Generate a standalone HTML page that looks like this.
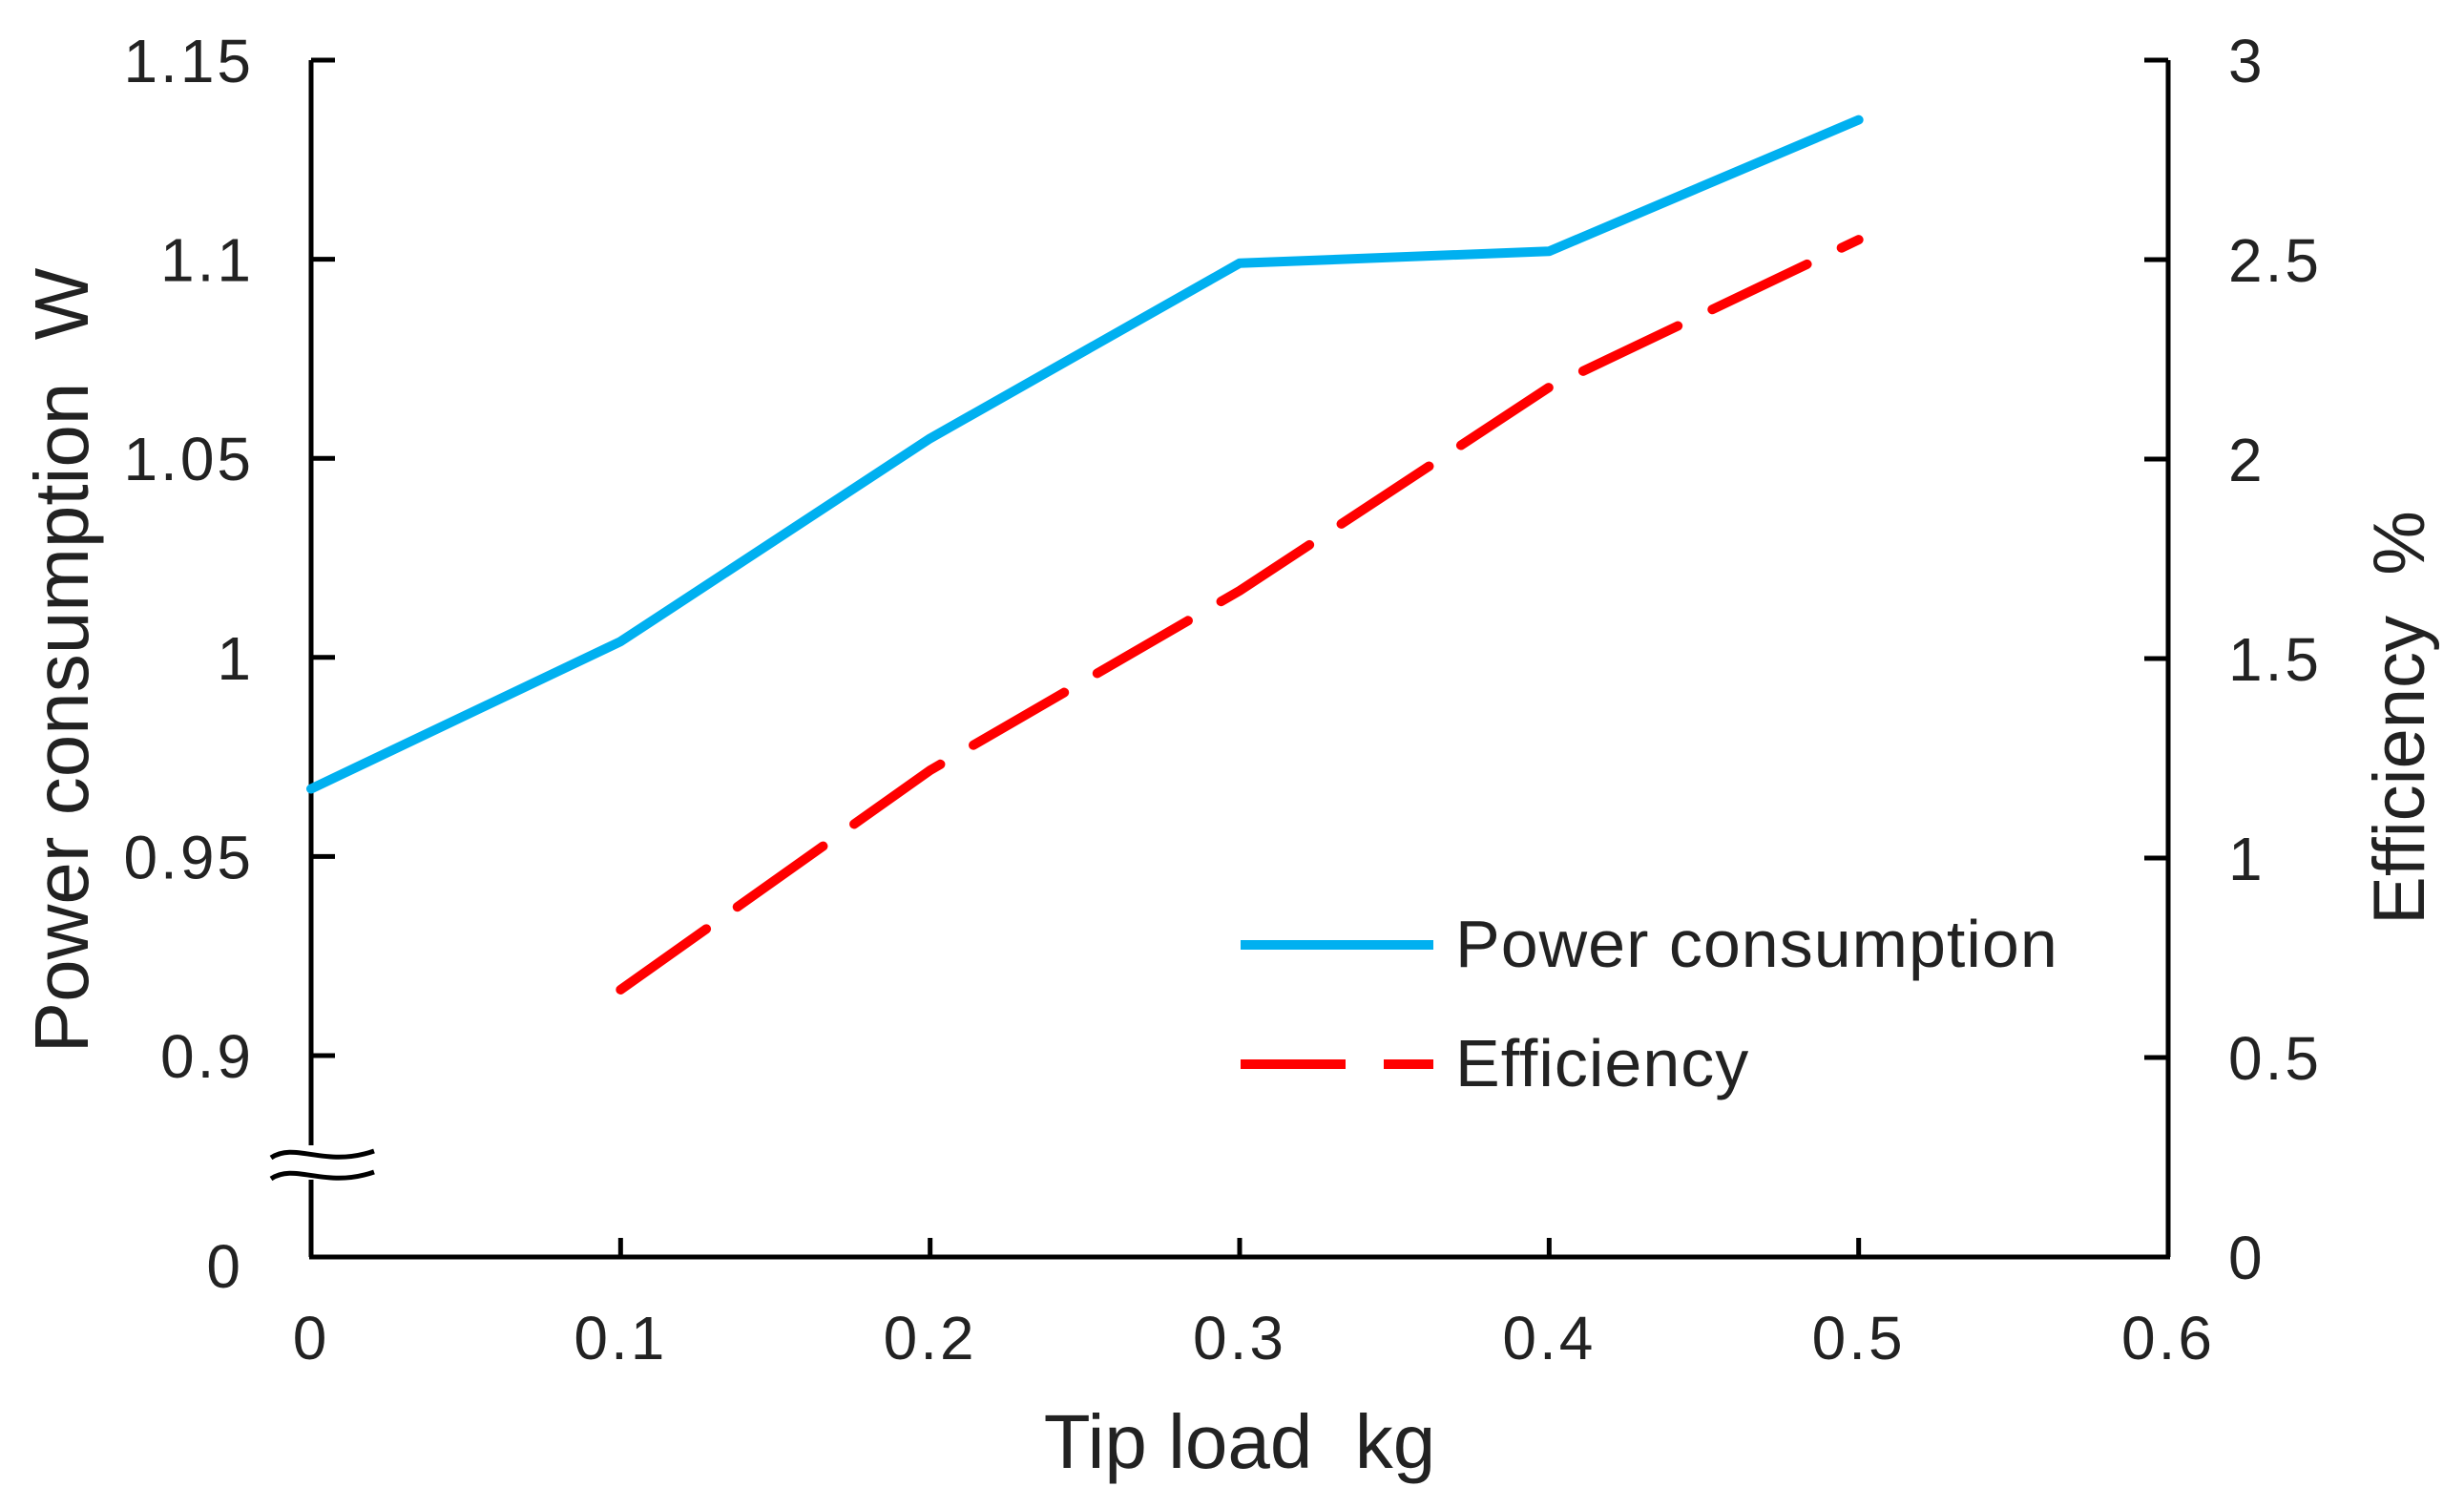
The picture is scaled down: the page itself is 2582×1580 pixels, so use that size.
<!DOCTYPE html>
<html><head><meta charset="utf-8"><style>
html,body{margin:0;padding:0;background:#fff;}
svg{display:block;font-family:"Liberation Sans",Arial,sans-serif;}
</style></head><body>
<svg id="chart" width="2582" height="1580" viewBox="0 0 2582 1580" xmlns="http://www.w3.org/2000/svg">
<g id="axes"></g>
<g id="series"></g>
<g id="legend">
  <line x1="1300" y1="990" x2="1502" y2="990" stroke="#00b0f0" stroke-width="10"/>
  <text x="1525" y="1013" font-size="70" letter-spacing="1" fill="#222">Power consumption</text>
  <line x1="1300" y1="1115" x2="1502" y2="1115" stroke="#ff0000" stroke-width="10" stroke-dasharray="110,40"/>
  <text x="1525" y="1138" font-size="70" letter-spacing="1" fill="#222">Efficiency</text>
</g>
</svg>
<script>
const xValues = [0, 0.1, 0.2, 0.3, 0.4, 0.5];
const powerValues = [0.967, 1.004, 1.055, 1.099, 1.102, 1.135];
const effX = [0.1, 0.2, 0.3, 0.4, 0.5];
const effValues = [0.67, 1.22, 1.67, 2.18, 2.55];
const xTicks = [0, 0.1, 0.2, 0.3, 0.4, 0.5, 0.6];
const leftTicks = [0.9, 0.95, 1, 1.05, 1.1, 1.15];
const rightTicks = [0, 0.5, 1, 1.5, 2, 2.5, 3];

const L = 326, R = 2272, T = 63, B = 1317;
const NS = 'http://www.w3.org/2000/svg';
function xPx(v){ return L + v / 0.6 * (R - L); }
function yLeft(v){ if (v === 0) return B; return 1106 - (v - 0.9) / 0.25 * (1106 - T); }
function yRight(v){ return B - v / 3 * (B - T); }
function mk(tag, attrs, parent){ const e = document.createElementNS(NS, tag); for (const k in attrs) e.setAttribute(k, attrs[k]); parent.appendChild(e); return e; }
const axes = document.getElementById('axes');
const series = document.getElementById('series');
const ax = {stroke:'#000','stroke-width':5,fill:'none'};
const FS = 64;

let e;
e = mk('line', Object.assign({x1:L,y1:T,x2:L,y2:B}, ax), axes);


e = mk('line', Object.assign({x1:R,y1:T,x2:R,y2:B}, ax), axes);


e = mk('line', Object.assign({x1:L-2,y1:B,x2:R+2,y2:B}, ax), axes);



e = mk('rect', {x:300, y:1200, width:60, height:36, fill:'#fff'}, axes);


e = mk('path', {d:'M284 1213 C310 1196,340 1224,392 1206 M284 1235 C310 1218,340 1246,392 1228', stroke:'#000','stroke-width':5, fill:'none'}, axes);



xTicks.forEach(v => {
  const x = xPx(v);
  if (v > 0 && v < 0.6) {
    e = mk('line', Object.assign({x1:x,y1:B,x2:x,y2:B-20}, ax), axes);
    
    
  }
  e = mk('text', {x:x, y:1424, 'font-size':FS, 'letter-spacing':3, 'text-anchor':'middle', fill:'#222'}, axes);
  e.textContent = String(v);
  
  
});
leftTicks.forEach(v => {
  const y = yLeft(v);
  e = mk('line', Object.assign({x1:L,y1:y,x2:L+25,y2:y}, ax), axes);
  
  
  e = mk('text', {x:266, y:y+23, 'font-size':FS, 'letter-spacing':3, 'text-anchor':'end', fill:'#222'}, axes);
  e.textContent = String(v);
  
  
});
e = mk('text', {x:252, y:B+32, 'font-size':FS, 'text-anchor':'end', fill:'#222'}, axes);
e.textContent = '0';


rightTicks.forEach(v => {
  const y = yRight(v);
  e = mk('line', Object.assign({x1:R-25,y1:y,x2:R,y2:y}, ax), axes);
  
  
  e = mk('text', {x:2335, y:y+23, 'font-size':FS, 'letter-spacing':3, fill:'#222'}, axes);
  e.textContent = String(v);
  
  
});
e = mk('text', {x:1299, y:1538, 'font-size':80, 'text-anchor':'middle', fill:'#222'}, axes);
e.textContent = 'Tip load\u00a0\u00a0kg';


e = mk('text', {x:0, y:0, 'font-size':80, 'text-anchor':'middle', fill:'#222', transform:'translate(92,692) rotate(-90)'}, axes);
e.textContent = 'Power consumption\u00a0\u00a0W';


e = mk('text', {x:0, y:0, 'font-size':76, 'text-anchor':'middle', fill:'#222', transform:'translate(2540,752) rotate(-90)'}, axes);
e.textContent = 'Efficiency\u00a0\u00a0%';



const pPts = xValues.map((x,i) => xPx(x) + ',' + yLeft(powerValues[i])).join(' ');
e = mk('polyline', {points:pPts, fill:'none', stroke:'#00b0f0', 'stroke-width':10, 'stroke-linejoin':'round', 'stroke-linecap':'round'}, series);


const ePts = effX.map((x,i) => xPx(x) + ',' + yRight(effValues[i])).join(' ');
e = mk('polyline', {points:ePts, fill:'none', stroke:'#ff0000', 'stroke-width':10, 'stroke-dasharray':'110,40', 'stroke-linejoin':'round', 'stroke-linecap':'round'}, series);


</script>
</body></html>
